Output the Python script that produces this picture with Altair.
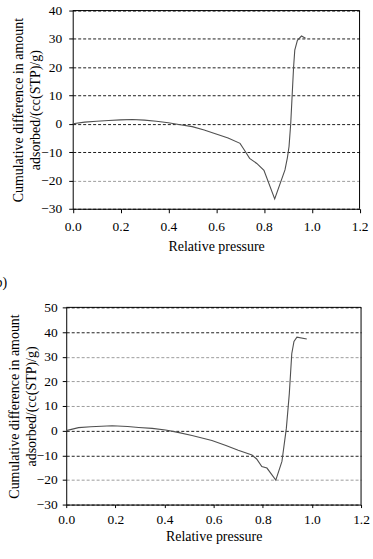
import altair as alt
import pandas as pd

# ---------- data ----------
# panel a
x_a = [0.0, 0.05, 0.1, 0.15, 0.2, 0.25, 0.3, 0.35, 0.4, 0.45, 0.5, 0.55, 0.6, 0.65,
       0.7, 0.72, 0.74, 0.77, 0.8, 0.845, 0.888, 0.898, 0.905, 0.912, 0.918, 0.924,
       0.929, 0.94, 0.957, 0.974]
y_a = [0.0, 0.6, 0.9, 1.2, 1.4, 1.5, 1.3, 0.9, 0.4, -0.3, -1.0, -2.2, -3.6, -5.0,
       -6.9, -9.5, -12.2, -14.0, -16.4, -26.5, -16.3, -12.0, -8.0, 0.0, 10.0, 20.0,
       26.0, 29.5, 31.0, 30.2]

# panel b
x_b = [0.0, 0.05, 0.1, 0.187, 0.25, 0.295, 0.35, 0.404, 0.45, 0.512, 0.593, 0.65,
       0.7, 0.756, 0.775, 0.796, 0.817, 0.853, 0.878, 0.896, 0.908, 0.918, 0.927,
       0.939, 0.979]
y_b = [0.0, 1.2, 1.6, 2.0, 1.7, 1.3, 0.9, 0.25, -0.6, -2.0, -4.0, -6.0, -8.0,
       -9.9, -11.5, -14.6, -15.2, -20.1, -12.5, 1.0, 15.0, 31.2, 36.2, 37.9, 37.2]

x_ticks = [0.0, 0.2, 0.4, 0.6, 0.8, 1.0, 1.2]
y_ticks_a = [-30, -20, -10, 0, 10, 20, 30, 40]
y_ticks_b = [-30, -20, -10, 0, 10, 20, 30, 40, 50]
light_grid_a = [-20]
light_grid_b = [-20, 10, 20, 30]
y_title = ["Cumulative difference in amount", "adsorbed/(cc(STP)/g)"]
x_title = "Relative pressure"
panel_b_label = "b)"

FONT = "Liberation Serif"


def grid_color(light):
    test = "indexof([" + ",".join(str(v) for v in light) + "], datum.value) >= 0"
    return {"condition": {"test": test, "value": "#9c9c9c"}, "value": "#1e1e1e"}


def panel(xs, ys, yticks, light, width, height, x_range, y_offset,
          x_tick, x_lpad, x_tpad, y_tick, y_lpad, y_tpad, title=None):
    df = pd.DataFrame({"p": xs, "v": ys})
    ymin, ymax = yticks[0], yticks[-1]
    sc_x = {"domain": [0, 1.2], "nice": False, "zero": False}
    if x_range is not None:
        sc_x["range"] = x_range
    xscale = alt.Scale(**sc_x)
    yscale = alt.Scale(domain=[ymin, ymax], nice=False, zero=False)
    xaxis = alt.Axis(values=x_ticks, tickCount=len(x_ticks), format=".1f",
                     title=x_title, grid=False,
                     tickSize=x_tick, labelPadding=x_lpad, titlePadding=x_tpad,
                     domainColor="black", tickColor="black", labelFlush=False,
                     labelOverlap=False)
    yaxis = alt.Axis(values=yticks, tickCount=len(yticks), format="d",
                     title=y_title, grid=True,
                     gridDash=[3, 2], gridColor=grid_color(light), gridWidth=1,
                     tickSize=y_tick, labelPadding=y_lpad, titlePadding=y_tpad,
                     offset=y_offset,
                     domainColor="black", tickColor="black", titleLineHeight=17,
                     labelFlush=False, labelOverlap=False)
    line = alt.Chart(df).mark_line(color="#505050", strokeWidth=1.1).encode(
        x=alt.X("p:Q", scale=xscale, axis=xaxis),
        y=alt.Y("v:Q", scale=yscale, axis=yaxis),
        order="p:Q",
    )
    frame_df = pd.DataFrame({"p": [0, 1.2], "p2": [1.2, 1.2],
                             "v": [ymax, ymin], "v2": [ymax, ymax]})
    frame = alt.Chart(frame_df).mark_rule(color="black", strokeWidth=1).encode(
        x="p:Q", x2="p2", y="v:Q", y2="v2"
    )
    props = dict(width=width, height=height)
    if title is not None:
        props["title"] = title
    return alt.layer(line, frame).properties(**props)


top = panel(x_a, y_a, y_ticks_a, light_grid_a, 296, 199, [6.5, 294.5], -6.5,
            4, 7, 6, 4, 7, -2)
bottom = panel(x_b, y_b, y_ticks_b, light_grid_b, 296, 198, None, 0,
               3, 5, 4, 4, 5, -2,
               title=alt.TitleParams(text=panel_b_label, anchor="start",
                                     frame="group", dx=-71, offset=-1,
                                     baseline="alphabetic",
                                     font=FONT, fontSize=14,
                                     fontWeight="normal", color="black"))

chart = alt.vconcat(top, bottom, spacing=23).properties(
    padding={"left": -4.5, "top": 2.5, "right": 3, "bottom": 5}
).configure_view(stroke=None).configure_axis(
    labelFont=FONT, titleFont=FONT, labelFontSize=13.5, titleFontSize=14,
    labelColor="black", titleColor="black", titleFontWeight="normal"
)

chart.save("out.html", embed_options={"renderer": "svg", "actions": False})
